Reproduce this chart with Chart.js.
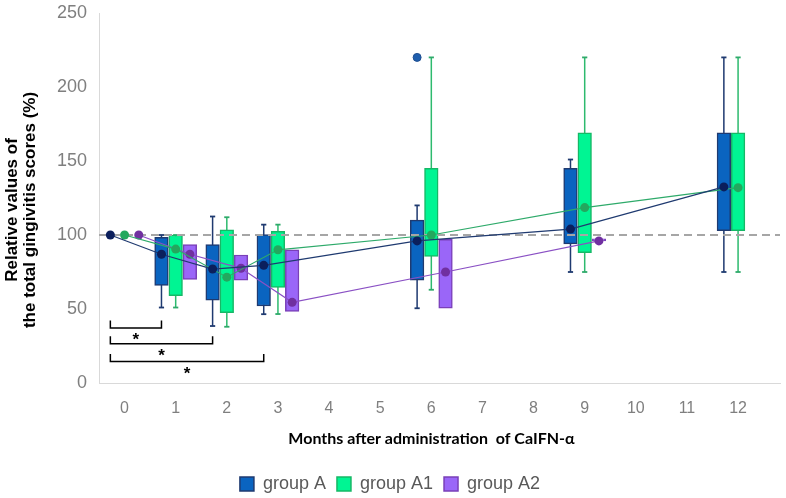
<!DOCTYPE html>
<html><head><meta charset="utf-8">
<script src="https://cdn.jsdelivr.net/npm/chart.js@4.4.1/dist/chart.umd.min.js"></script>
<style>html,body{margin:0;padding:0;background:#fff}#wrap{width:786px;height:498px;position:relative}</style>
</head><body><div id="wrap"><canvas id="c"></canvas></div>
<script>
// ---------- data ----------
const months = [0, 1, 2, 3, 6, 9, 12];
const monthTicks = [0, 1, 2, 3, 4, 5, 6, 7, 8, 9, 10, 11, 12];
const groupNames = ['group A', 'group A1', 'group A2'];
const xTitle = 'Months after administration  of CaIFN-α';
const yTitle = ['Relative values of', 'the total gingivitis scores (%)'];

// group A
const minA  = [null, 51, 38.5, 46.5, 50.5, 75, 75];
const q1A   = [null, 66, 56, 52, 69.5, 94, 103];
const q3A   = [null, 98.4, 93.5, 100.3, 110, 145, 169];
const maxA  = [null, 100, 112.5, 107, 120, 151, 220];
const meanA = [100, 87, 77, 79.5, 96, 104, 132.5];
const outlierMonthA = [6];
const outlierA = [220];

// group A1
const minA1  = [null, 51, 38, 46.6, 63, 75, 75];
const q1A1   = [null, 59, 47.5, 64.5, 85.5, 88, 103];
const q3A1   = [null, 100, 103.5, 102.4, 145, 169, 169];
const maxA1  = [null, 100, 112, 107, 220, 220, 220];
const meanA1 = [100, 90.5, 71.5, 90, 100, 118.5, 132];

// group A2
const minA2  = [null, 70, 69.5, 48.4, 50.5, 96, null];
const q1A2   = [null, 70, 69.5, 48.4, 50.5, 96, null];
const q3A2   = [null, 93.5, 86.5, 90, 97, 96, null];
const maxA2  = [null, 93.5, 86.5, 90, 97, 96, null];
const meanA2 = [100, 87, 77.5, 54.5, 75, 96, null];

// reference level and significance brackets (month 0 vs month k, group A)
const refValue = 100;
const sigFrom = 0;
const sigTo = [1, 2, 3];
const sigLevel = [37.2, 26.6, 14.6];
const sigTickHeight = 5;
const sigLabel = ['*', '*', '*'];

// ---------- styling / layout ----------
const X_MIN = -0.5, X_MAX = 12.82;
const SHIFT = 0.278;
const offs = [-SHIFT, 0, SHIFT];
const boxFill   = ['#0A64C0', '#00F593', '#9A66F8'];
const boxBorder = ['#1F3A70', '#16B866', '#7A40B8'];
const lineCol   = ['#1F3A70', '#2EAA6A', '#8A50C4'];
const whiskCol  = ['#1F3A70', '#2DBA6E', '#7A40B8'];
const dotCol    = ['#0B1F5C', '#23A85E', '#7030A0'];

const G = [
  {min: minA,  q1: q1A,  q3: q3A,  max: maxA,  mean: meanA},
  {min: minA1, q1: q1A1, q3: q3A1, max: maxA1, mean: meanA1},
  {min: minA2, q1: q1A2, q3: q3A2, max: maxA2, mean: meanA2}
];

const datasets = [];
// boxes (legend)
G.forEach((g, k) => {
  datasets.push({
    type: 'bar', label: groupNames[k],
    data: months.map((m, i) => g.q1[i] == null ? null : {x: m + offs[k], y: [g.q1[i], g.q3[i]]}).filter(d => d),
    backgroundColor: boxFill[k], borderColor: boxBorder[k], borderWidth: 1.5, borderSkipped: false,
    grouped: false, barThickness: 13.6, minBarLength: 2, order: 2
  });
});
// whiskers
G.forEach((g, k) => {
  const d = [];
  months.forEach((m, i) => {
    if (g.min[i] == null) return;
    if (g.min[i] < g.q1[i] || g.max[i] > g.q3[i]) {
      d.push({x: m + offs[k], y: g.min[i]}, {x: m + offs[k], y: g.max[i]}, {x: m + offs[k], y: null});
    }
  });
  datasets.push({
    type: 'line', data: d, borderColor: whiskCol[k], borderWidth: 1.5,
    pointStyle: 'line', pointRadius: 2.6, pointBorderWidth: 1.8, pointBorderColor: lineCol[k],
    spanGaps: false, order: 3
  });
});
// reference dashed line
datasets.push({
  type: 'line', data: [{x: X_MIN, y: refValue}, {x: X_MAX, y: refValue}],
  borderColor: '#A6A6A6', borderWidth: 2, borderDash: [8, 5], pointRadius: 0, order: 1
});
// mean lines
G.forEach((g, k) => {
  datasets.push({
    type: 'line',
    data: months.map((m, i) => g.mean[i] == null ? null : {x: m + offs[k], y: g.mean[i]}).filter(d => d),
    borderColor: lineCol[k], borderWidth: 1.2, backgroundColor: dotCol[k],
    pointRadius: 4.5, pointBorderWidth: 0, pointBackgroundColor: dotCol[k], order: 0
  });
});
// outlier
datasets.push({
  type: 'line', showLine: false,
  data: outlierMonthA.map((m, i) => ({x: m + offs[0], y: outlierA[i]})),
  pointRadius: 4, pointBackgroundColor: '#1F5FAE', pointBorderColor: '#1F4E90', pointBorderWidth: 1, order: 0
});
// significance brackets
sigTo.forEach((t, i) => {
  const x0 = sigFrom + offs[0], x1 = t + offs[0];
  datasets.push({
    type: 'line',
    data: [{x: x0, y: sigLevel[i] + sigTickHeight}, {x: x0, y: sigLevel[i]}, {x: x1, y: sigLevel[i]}, {x: x1, y: sigLevel[i] + sigTickHeight}],
    borderColor: '#000', borderWidth: 1.5, pointRadius: 0, order: 0
  });
});

const textPlugin = {
  id: 'texts',
  afterDraw(chart) {
    const {ctx, chartArea: ca, scales: {x, y}} = chart;
    ctx.save();
    ctx.fillStyle = '#000';
    // significance stars
    ctx.font = 'bold 17px "Liberation Sans", Arial, sans-serif';
    ctx.textAlign = 'center';
    ctx.textBaseline = 'alphabetic';
    sigTo.forEach((t, i) => {
      const px = (x.getPixelForValue(sigFrom + offs[0]) + x.getPixelForValue(t + offs[0])) / 2;
      const py = y.getPixelForValue(sigLevel[i]);
      ctx.fillText(sigLabel[i], px, py + 17.5);
    });
    // x axis title
    ctx.font = 'bold 16px Lato, "Open Sans", sans-serif';
    ctx.textBaseline = 'middle';
    ctx.fillText(xTitle, (ca.left + ca.right) / 2 - 8, ca.bottom + 56);
    // y axis title
    ctx.font = 'bold 17px "Liberation Sans", Arial, sans-serif';
    ctx.translate(ca.left - 86.5, (ca.top + ca.bottom) / 2 + 12);
    ctx.rotate(-Math.PI / 2);
    yTitle.forEach((line, i) => ctx.fillText(line, 0, i * 18));
    ctx.restore();
  }
};

new Chart(document.getElementById('c'), {
  type: 'bar',
  data: {datasets},
  plugins: [textPlugin],
  options: {
    responsive: true, maintainAspectRatio: false, animation: false,
    layout: {padding: {left: 0, right: 6, top: 13, bottom: 0}},
    plugins: {
      tooltip: {enabled: false},
      legend: {
        position: 'bottom', maxHeight: 34,
        labels: {
          filter: it => it.datasetIndex < 3,
          boxWidth: 14, boxHeight: 14, padding: 11,
          color: '#595959', font: {family: '"Liberation Sans", Arial, sans-serif', size: 18}
        }
      }
    },
    scales: {
      x: {
        type: 'linear', min: X_MIN, max: X_MAX, offset: false,
        afterBuildTicks: s => { s.ticks = monthTicks.map(v => ({value: v})); },
        afterFit: s => { s.height = 81; s.paddingLeft = 0; s.paddingRight = 0; },
        ticks: {autoSkip: false, maxRotation: 0, padding: 16, color: '#7F7F7F',
          font: {family: '"Liberation Sans", Arial, sans-serif', size: 16},
          callback: v => String(v)},
        grid: {display: false, drawTicks: false},
        border: {display: true, color: '#D9D9D9', width: 1},
        title: {display: false}
      },
      y: {
        min: 0, max: 250,
        afterFit: s => { s.width = 99; s.paddingTop = 0; s.paddingBottom = 0; },
        ticks: {stepSize: 50, padding: 12, color: '#7F7F7F',
          font: {family: '"Liberation Sans", Arial, sans-serif', size: 18}},
        grid: {display: false, drawTicks: false},
        border: {display: true, color: '#D9D9D9', width: 1},
        title: {display: false}
      }
    }
  }
});
</script></body></html>
